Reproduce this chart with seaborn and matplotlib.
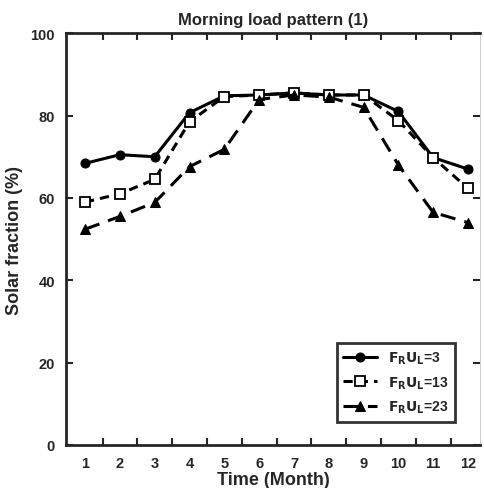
import pandas as pd
import matplotlib.pyplot as plt
import seaborn as sns

# Data
months = list(range(1, 13))
fu_3 = [68.4, 70.5, 70.0, 80.7, 84.8, 85.0, 85.5, 85.0, 85.0, 81.0, 69.8, 67.0]
fu_13 = [59.0, 61.0, 64.5, 78.5, 84.6, 85.0, 85.5, 85.0, 85.0, 78.8, 69.8, 62.3]
fu_23 = [52.4, 55.5, 58.9, 67.6, 71.8, 83.9, 85.0, 84.5, 82.0, 68.0, 56.5, 54.0]
labels = [r'$\mathbf{F_R U_L}$=3', r'$\mathbf{F_R U_L}$=13', r'$\mathbf{F_R U_L}$=23']

sns.set_style('ticks')
plt.rcParams['font.family'] = ['Liberation Sans', 'DejaVu Sans']
plt.rcParams['font.weight'] = 'bold'

fig = plt.figure(figsize=(4.85, 4.89), dpi=100)
ax = fig.add_axes([0.136, 0.088, 0.854, 0.842])

# --- lines ---
sns.lineplot(x=months, y=fu_3, ax=ax, color='black', lw=2.2, marker='o',
             markersize=6.5, markeredgecolor='black', label=labels[0])
sns.lineplot(x=months, y=fu_13, ax=ax, color='black', lw=2.2, marker='s',
             markersize=7.5, markerfacecolor='white', markeredgecolor='black',
             markeredgewidth=1.3, dashes=False, label=labels[1])
ax.lines[-1].set_dashes((3, 2))
sns.lineplot(x=months, y=fu_23, ax=ax, color='black', lw=2.2, marker='^',
             markersize=7.5, markeredgecolor='black', label=labels[2])
ax.lines[-1].set_dashes((5, 3))

# --- axes ---
ax.set_xlim(0.45, 12.35)
ax.set_ylim(0, 100)
ax.set_xticks(months)
ax.set_xticks([m + 0.5 for m in months[:-1]], minor=True)
ax.tick_params(axis='x', which='major', length=0, labelsize=10.5, pad=8)
ax.tick_params(axis='x', which='minor', direction='in', length=5, width=1.5,
               top=True, bottom=True)
ax.set_yticks([0, 20, 40, 60, 80, 100])
ax.tick_params(axis='y', direction='in', length=5, width=1.5, labelsize=10.5,
               right=True, pad=8)
for lab in ax.get_xticklabels() + ax.get_yticklabels():
    lab.set_fontweight('bold')

for side in ['left', 'bottom', 'top']:
    ax.spines[side].set_linewidth(2)
ax.spines['right'].set_linewidth(0.5)
ax.spines['right'].set_color('#bbbbbb')

ax.set_title('Morning load pattern (1)', fontsize=12, fontweight='bold', pad=7)
ax.set_xlabel('Time (Month)', fontsize=13, fontweight='bold', labelpad=1)
ax.set_ylabel('Solar fraction (%)', fontsize=13, fontweight='bold', labelpad=5)

leg = ax.legend(loc='lower right', bbox_to_anchor=(0.955, 0.04), frameon=True,
                fancybox=False, edgecolor='black', fontsize=10,
                handlelength=2.4, borderpad=0.45, labelspacing=0.6)
leg.get_frame().set_linewidth(2)
for t in leg.get_texts():
    t.set_fontweight('bold')

fig.savefig('out.png', dpi=100)
